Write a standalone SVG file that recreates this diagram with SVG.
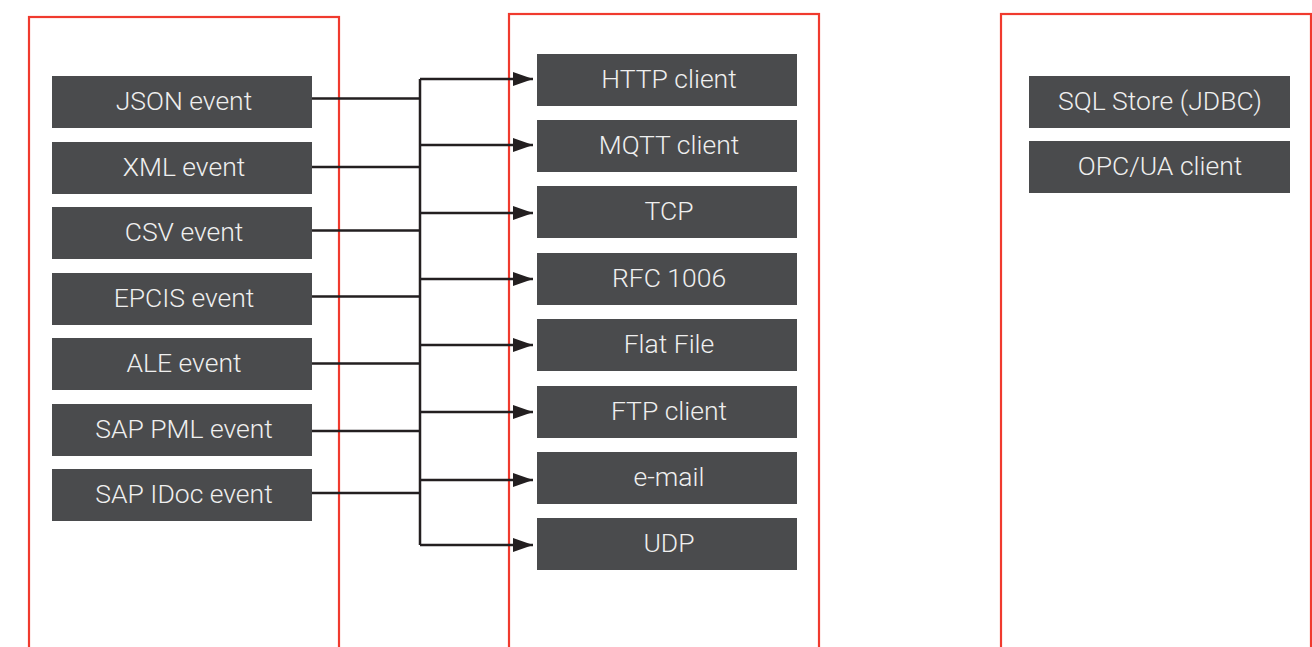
<svg xmlns="http://www.w3.org/2000/svg" width="1312" height="647" viewBox="0 0 1312 647">
<style>
.panel{fill:none;stroke:#f03a2e;stroke-width:2.2}
.box{fill:#4a4b4d}
.lbl{fill:#efefef;font-family:Roboto,"Liberation Sans",sans-serif;font-weight:300;font-size:26.5px;text-anchor:middle}
.wire{fill:none;stroke:#231f20;stroke-width:2.5}
</style>
<defs>
<marker id="arr" markerUnits="userSpaceOnUse" markerWidth="20" markerHeight="14" refX="20" refY="7" orient="auto">
<path d="M0,0 L20,7 L0,14 Z" fill="#231f20"/>
</marker>
</defs>
<rect width="1312" height="647" fill="#ffffff"/>
<g id="panels">
<rect class="panel" x="29" y="17" width="310" height="660"/>
<rect class="panel" x="509" y="14" width="310" height="660"/>
<rect class="panel" x="1001" y="14" width="310" height="660"/>
</g>
<g id="connectors">
<path class="wire" d="M312,98.5 H420 M312,167 H420 M312,230.5 H420 M312,296.5 H420 M312,363.5 H420 M312,431 H420 M312,493 H420 M420,79 V545"/>
<path class="wire" marker-end="url(#arr)" d="M420,79 H533"/>
<path class="wire" marker-end="url(#arr)" d="M420,145 H533"/>
<path class="wire" marker-end="url(#arr)" d="M420,213 H533"/>
<path class="wire" marker-end="url(#arr)" d="M420,279 H533"/>
<path class="wire" marker-end="url(#arr)" d="M420,345 H533"/>
<path class="wire" marker-end="url(#arr)" d="M420,412 H533"/>
<path class="wire" marker-end="url(#arr)" d="M420,480 H533"/>
<path class="wire" marker-end="url(#arr)" d="M420,545 H533"/>
</g>
<g id="json"><rect class="box" x="52" y="76" width="260" height="52"/><text class="lbl" x="184" y="110">JSON event</text></g>
<g id="xml"><rect class="box" x="52" y="142" width="260" height="52"/><text class="lbl" x="184" y="176">XML event</text></g>
<g id="csv"><rect class="box" x="52" y="207" width="260" height="52"/><text class="lbl" x="184" y="241">CSV event</text></g>
<g id="epcis"><rect class="box" x="52" y="273" width="260" height="52"/><text class="lbl" x="184" y="307">EPCIS event</text></g>
<g id="ale"><rect class="box" x="52" y="338" width="260" height="52"/><text class="lbl" x="184" y="372">ALE event</text></g>
<g id="pml"><rect class="box" x="52" y="404" width="260" height="52"/><text class="lbl" x="184" y="438">SAP PML event</text></g>
<g id="idoc"><rect class="box" x="52" y="469" width="260" height="52"/><text class="lbl" x="184" y="503">SAP IDoc event</text></g>
<g id="http"><rect class="box" x="537" y="54" width="260" height="52"/><text class="lbl" x="669" y="88">HTTP client</text></g>
<g id="mqtt"><rect class="box" x="537" y="120" width="260" height="52"/><text class="lbl" x="669" y="154">MQTT client</text></g>
<g id="tcp"><rect class="box" x="537" y="186" width="260" height="52"/><text class="lbl" x="669" y="220">TCP</text></g>
<g id="rfc"><rect class="box" x="537" y="253" width="260" height="52"/><text class="lbl" x="669" y="287">RFC 1006</text></g>
<g id="flat"><rect class="box" x="537" y="319" width="260" height="52"/><text class="lbl" x="669" y="353">Flat File</text></g>
<g id="ftp"><rect class="box" x="537" y="386" width="260" height="52"/><text class="lbl" x="669" y="420">FTP client</text></g>
<g id="email"><rect class="box" x="537" y="452" width="260" height="52"/><text class="lbl" x="669" y="486">e-mail</text></g>
<g id="udp"><rect class="box" x="537" y="518" width="260" height="52"/><text class="lbl" x="669" y="552">UDP</text></g>
<g id="sql"><rect class="box" x="1029" y="76" width="261" height="52"/><text class="lbl" x="1160" y="110">SQL Store (JDBC)</text></g>
<g id="opc"><rect class="box" x="1029" y="141" width="261" height="52"/><text class="lbl" x="1160" y="175">OPC/UA client</text></g>
</svg>
